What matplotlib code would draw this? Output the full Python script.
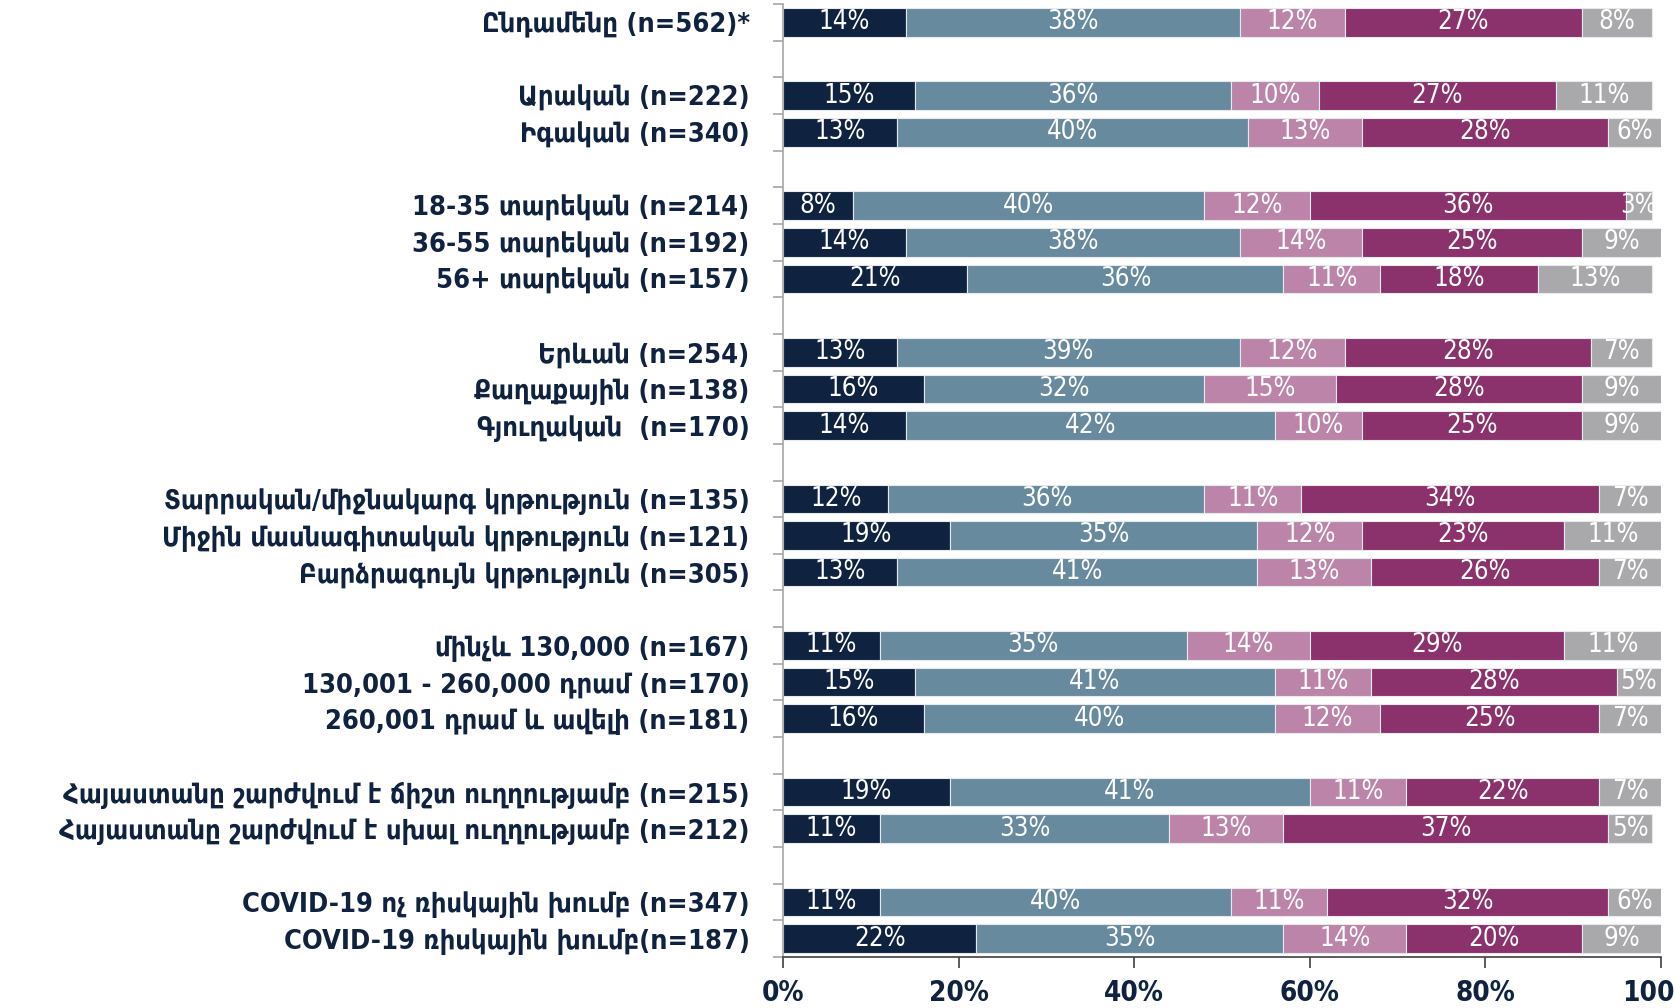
import matplotlib.pyplot as plt
from matplotlib.ticker import FixedLocator

# Data
labels = [
    'Ընդամենը (n=562)*',
    'Արական (n=222)',
    'Իգական (n=340)',
    '18-35 տարեկան (n=214)',
    '36-55 տարեկան (n=192)',
    '56+ տարեկան (n=157)',
    'Երևան (n=254)',
    'Քաղաքային (n=138)',
    'Գյուղական  (n=170)',
    'Տարրական/միջնակարգ կրթություն (n=135)',
    'Միջին մասնագիտական կրթություն (n=121)',
    'Բարձրագույն կրթություն (n=305)',
    'մինչև 130,000 (n=167)',
    '130,001 - 260,000 դրամ (n=170)',
    '260,001 դրամ և ավելի (n=181)',
    'Հայաստանը շարժվում է ճիշտ ուղղությամբ (n=215)',
    'Հայաստանը շարժվում է սխալ ուղղությամբ (n=212)',
    'COVID-19 ոչ ռիսկային խումբ (n=347)',
    'COVID-19 ռիսկային խումբ(n=187)',
]
group_sizes = [1, 2, 3, 3, 3, 3, 2, 2]

s1 = [14, 15, 13, 8, 14, 21, 13, 16, 14, 12, 19, 13, 11, 15, 16, 19, 11, 11, 22]
s2 = [38, 36, 40, 40, 38, 36, 39, 32, 42, 36, 35, 41, 35, 41, 40, 41, 33, 40, 35]
s3 = [12, 10, 13, 12, 14, 11, 12, 15, 10, 11, 12, 13, 14, 11, 12, 11, 13, 11, 14]
s4 = [27, 27, 28, 36, 25, 18, 28, 28, 25, 34, 23, 26, 29, 28, 25, 22, 37, 32, 20]
s5 = [8, 11, 6, 3, 9, 13, 7, 9, 9, 7, 11, 7, 11, 5, 7, 7, 5, 6, 9]

colors = ['#0f2340', '#678a9e', '#bb84a8', '#8b316b', '#a9a9ab']
NAVY = '#0f2340'

# Row positions: groups separated by one empty slot
ypos = []
slot = 0
for g in group_sizes:
    for _ in range(g):
        ypos.append(slot)
        slot += 1
    slot += 1
n_slots = slot - 1

fig = plt.figure(figsize=(16.75, 10.08), dpi=100)
ax = fig.add_axes([0.4675, 0.0506, 0.5241, 0.9454])

left = [0] * len(labels)
for vals, c in zip([s1, s2, s3, s4, s5], colors):
    bars = ax.barh(ypos, vals, left=left, height=0.78, color=c,
                   edgecolor='#e6eaee', linewidth=0.8)
    ax.bar_label(bars, labels=[f'{v}%' for v in vals], label_type='center',
                 color='white', fontsize=18.5, fontstretch='condensed',
                 family='DejaVu Sans')
    left = [a + b for a, b in zip(left, vals)]

ax.set_xlim(0, 100)
ax.set_ylim(n_slots - 0.5, -0.5)

ax.set_yticks(ypos)
ax.set_yticklabels(labels, fontsize=19.5, fontweight='bold', color=NAVY,
                   fontstretch='condensed')
ax.tick_params(axis='y', which='major', length=0, pad=24)
ax.yaxis.set_minor_locator(FixedLocator([i - 0.5 for i in range(n_slots + 1)]))
ax.tick_params(axis='y', which='minor', length=7, color='#a6a6a6', width=1.2)

ax.set_xticks([0, 20, 40, 60, 80, 100])
ax.set_xticklabels(['0%', '20%', '40%', '60%', '80%', '100%'], fontsize=20,
                   fontweight='bold', color=NAVY, fontstretch='condensed')
ax.tick_params(axis='x', length=8, color='#404040', width=1.2, pad=8)

for side in ['top', 'right']:
    ax.spines[side].set_visible(False)
ax.spines['left'].set_color('#a6a6a6')
ax.spines['left'].set_linewidth(1.2)
ax.spines['bottom'].set_color('#404040')
ax.spines['bottom'].set_linewidth(1.2)

fig.savefig('out.png', dpi=100)
